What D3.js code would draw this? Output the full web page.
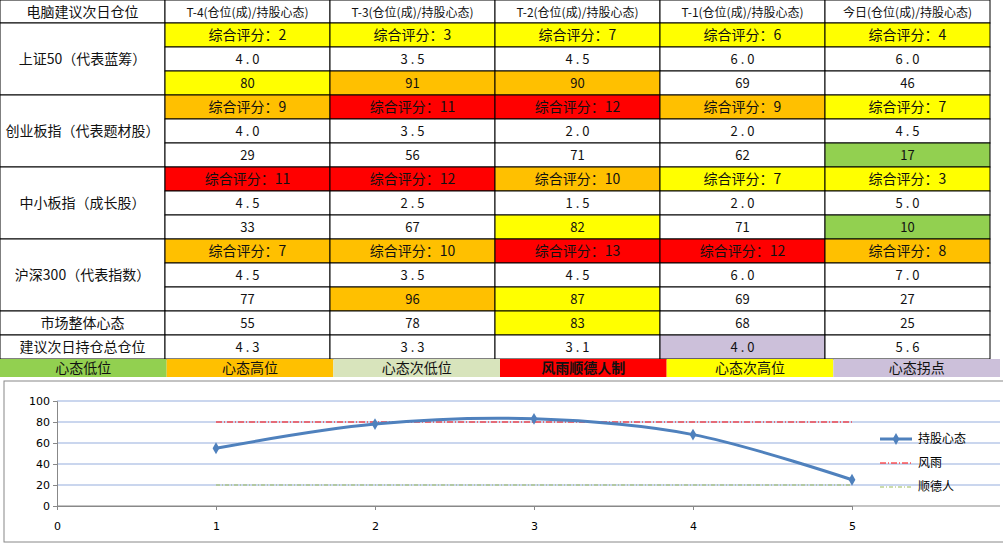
<!DOCTYPE html>
<html><head><meta charset="utf-8">
<script src="https://cdn.jsdelivr.net/npm/d3@7"></script>
<style>body{margin:0;background:#fff}</style>
</head><body><svg id="c" width="1003" height="544"></svg>
<script>
const headers = ["电脑建议次日仓位", "T-4(仓位(成)/持股心态)", "T-3(仓位(成)/持股心态)", "T-2(仓位(成)/持股心态)", "T-1(仓位(成)/持股心态)", "今日(仓位(成)/持股心态)"];
const groups = ["上证50（代表蓝筹）", "创业板指（代表题材股）", "中小板指（成长股）", "沪深300（代表指数）"];
const scores = [[2,3,7,6,4],[9,11,12,9,7],[11,12,10,7,3],[7,10,13,12,8]];
const scoreColors = [["Y","Y","Y","Y","Y"],["O","R","R","O","Y"],["R","R","O","Y","Y"],["O","O","R","R","O"]];
const positions = [[4.0,3.5,4.5,6.0,6.0],[4.0,3.5,2.0,2.0,4.5],[4.5,2.5,1.5,2.0,5.0],[4.5,3.5,4.5,6.0,7.0]];
const moods = [[80,91,90,69,46],[29,56,71,62,17],[33,67,82,71,10],[77,96,87,69,27]];
const moodColors = [["Y","O","O","W","W"],["W","W","W","W","G"],["W","W","Y","W","G"],["W","O","Y","W","W"]];
const market = [55,78,83,68,25];
const marketColors = ["W","W","Y","W","W"];
const suggest = [4.3,3.3,3.1,4.0,5.6];
const suggestColors = ["W","W","W","P","W"];
const legendLabels = ["心态低位","心态高位","心态次低位","风雨顺德人制","心态次高位","心态拐点"];
const legendColors = ["G","O","L","R","Y","P"];
const days = [1,2,3,4,5];
const fengyu = [80,80,80,80,80];
const shunde = [20,20,20,20,20];

const pal = {Y:"#FFFF00",O:"#FFC000",R:"#FF0000",G:"#92D050",W:"#FFFFFF",P:"#CCC0DA",L:"#D8E4BC"};
const svg = d3.select("#c");
const font = "'Noto Sans CJK SC', sans-serif";
const colX = d3.scaleLinear().domain([0,1]).range([165,330]);
const col0W = 165, colW = 165, rowH = 24, headH = 23;

function cell(x,y,w,h,fill,txt,opts={}){
  svg.append("rect").attr("x",x).attr("y",y).attr("width",w).attr("height",h)
    .attr("fill",fill).attr("stroke",opts.noStroke?"none":"#000").attr("stroke-width",1);
  svg.append("text").attr("x",x+w/2).attr("y",y+h/2+5).attr("text-anchor","middle")
    .attr("font-family",font).attr("font-size",opts.size||13).attr("font-weight",opts.bold?"bold":"normal")
    .attr("fill","#111").text(txt);
}
const cx = i => colX(i);

// header
cell(0,0,col0W,headH,"#fff",headers[0],{size:14});
headers.slice(1).forEach((h,i)=>cell(cx(i),0,colW,headH,"#fff",h,{size:12}));

let y = headH;
groups.forEach((g,gi)=>{
  cell(0,y,col0W,rowH*3,"#fff",g,{size:14});
  scores[gi].forEach((s,i)=>cell(cx(i),y,colW,rowH,pal[scoreColors[gi][i]],"综合评分："+s,{size:14}));
  positions[gi].forEach((p,i)=>cell(cx(i),y+rowH,colW,rowH,"#fff",p.toFixed(1).split("").join(" ")));
  moods[gi].forEach((m,i)=>cell(cx(i),y+rowH*2,colW,rowH,pal[moodColors[gi][i]],m));
  y += rowH*3;
});
cell(0,y,col0W,rowH,"#fff","市场整体心态",{size:14});
market.forEach((m,i)=>cell(cx(i),y,colW,rowH,pal[marketColors[i]],m));
y += rowH;
cell(0,y,col0W,rowH,"#fff","建议次日持仓总仓位",{size:14});
suggest.forEach((m,i)=>cell(cx(i),y,colW,rowH,pal[suggestColors[i]],m.toFixed(1).split("").join(" ")));
y += rowH;
const lw = 1000/6;
legendLabels.forEach((l,i)=>cell(i*lw,y,lw,18,pal[legendColors[i]],l,{size:14,noStroke:true,bold:i===3}));

// chart
svg.append("rect").attr("x",4).attr("y",381).attr("width",1010).attr("height",161)
  .attr("fill","#fff").attr("stroke","#888");
const x = d3.scaleLinear().domain([0,5]).range([57,852]);
const yS = d3.scaleLinear().domain([0,100]).range([506,401]);
const g = svg.append("g");
yS.ticks(5).forEach(t=>{
  g.append("line").attr("x1",57).attr("x2",1000).attr("y1",yS(t)).attr("y2",yS(t))
    .attr("stroke",t===0?"#888":"#b8c8e8").attr("stroke-width",t===0?1:1.5);
});
g.append("g").attr("transform","translate(57,0)").call(d3.axisLeft(yS).ticks(5).tickSize(4))
  .call(a=>{a.select(".domain").attr("stroke","#888");a.selectAll("line").attr("stroke","#888");
    a.selectAll("text").attr("font-size",11).attr("font-family","'DejaVu Sans'");});
g.append("g").attr("transform","translate(0,506)").call(d3.axisBottom(x).ticks(5).tickSize(4).tickPadding(12))
  .call(a=>{a.select(".domain").attr("stroke","#888");a.selectAll("line").attr("stroke","#888");
    a.selectAll("text").attr("font-size",11).attr("font-family","'DejaVu Sans'");});

const flat = d3.line().x((d,i)=>x(days[i])).y(d=>yS(d));
g.append("path").attr("d",flat(fengyu)).attr("fill","none").attr("stroke","#FF0000").attr("stroke-dasharray","6,2,1,2");
g.append("path").attr("d",flat(shunde)).attr("fill","none").attr("stroke","#9BBB59").attr("stroke-dasharray","4,2,1,2");
const smooth = d3.line().x((d,i)=>x(days[i])).y(d=>yS(d)).curve(d3.curveCatmullRom.alpha(0.5));
g.append("path").attr("d",smooth(market)).attr("fill","none").attr("stroke","#4F81BD").attr("stroke-width",3);
g.selectAll(".pt").data(market).join("path").attr("transform",(d,i)=>`translate(${x(days[i])},${yS(d)})`)
  .attr("d",d3.symbol(d3.symbolDiamond,40)).attr("fill","#4F81BD");

// legend
const leg = [["持股心态","#4F81BD",null,3],["风雨","#FF0000","6,2,1,2",1],["顺德人","#9BBB59","4,2,1,2",1]];
leg.forEach((l,i)=>{
  const ly = 439 + i*24;
  g.append("line").attr("x1",880).attr("x2",912).attr("y1",ly).attr("y2",ly).attr("stroke",l[1])
    .attr("stroke-width",l[3]).attr("stroke-dasharray",l[2]);
  if(i===0) g.append("path").attr("transform",`translate(896,${ly})`).attr("d",d3.symbol(d3.symbolDiamond,40)).attr("fill",l[1]);
  g.append("text").attr("x",918).attr("y",ly+4).attr("font-family",font).attr("font-size",12).text(l[0]);
});
</script></body></html>
